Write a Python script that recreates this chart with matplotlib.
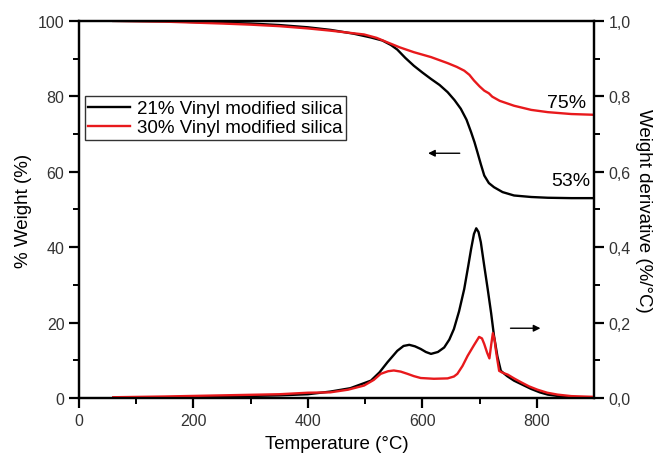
import numpy as np
import matplotlib
matplotlib.use("Agg")
import matplotlib.pyplot as plt

plt.rcParams['font.family'] = ['Liberation Sans', 'DejaVu Sans']

# TGA weight curves (temperature in C, weight in %)
t_w21 = [60, 150, 250, 300, 350, 400, 440, 480, 510, 530, 545, 556, 570, 585, 600, 615, 630,
         644, 656, 667, 677, 685, 691, 696, 702, 708, 716, 725, 740, 760, 790, 819, 860, 900]
w21 = [100, 99.9, 99.5, 99.3, 98.9, 98.3, 97.6, 96.6, 95.6, 94.8, 93.6, 92.4, 90.2, 88.1, 86.3,
       84.6, 83.0, 81.1, 79.0, 76.7, 73.8, 70.5, 67.8, 65.2, 62.0, 59.0, 57.0, 55.9, 54.6, 53.7,
       53.3, 53.1, 53.0, 53.0]

t_w30 = [60, 150, 250, 300, 350, 400, 440, 498, 520, 539, 560, 585, 615, 644, 660, 673, 682,
         690, 700, 708, 716, 722, 735, 760, 790, 819, 860, 900]
w30 = [100, 99.8, 99.3, 99.0, 98.6, 98.0, 97.4, 96.4, 95.5, 94.3, 93.0, 91.7, 90.4, 88.8, 87.8,
       86.8, 85.7, 84.2, 82.6, 81.5, 80.8, 79.9, 78.8, 77.5, 76.4, 75.8, 75.3, 75.1]

# DTG curves (%/C)
t_d21 = [60, 150, 250, 350, 400, 439, 474, 510, 525, 539, 556, 567, 577, 587, 597, 606, 615,
         627, 638, 647, 655, 664, 673, 680, 685, 690, 694, 698, 702, 708, 714, 720, 725, 731,
         737, 748, 760, 775, 790, 805, 819, 848, 900]
d21 = [0.001, 0.002, 0.004, 0.007, 0.010, 0.017, 0.026, 0.046, 0.068, 0.095, 0.125, 0.138,
       0.141, 0.137, 0.130, 0.122, 0.117, 0.122, 0.134, 0.155, 0.183, 0.230, 0.289, 0.350,
       0.395, 0.435, 0.450, 0.440, 0.413, 0.350, 0.289, 0.225, 0.165, 0.110, 0.072, 0.058,
       0.046, 0.035, 0.024, 0.015, 0.009, 0.003, 0.001]

t_d30 = [60, 150, 250, 350, 400, 439, 470, 498, 515, 527, 540, 550, 562, 574, 585, 597, 620,
         644, 655, 661, 670, 679, 690, 699, 704, 708, 713, 717, 720, 723, 726, 728, 731, 734,
         740, 749, 760, 772, 786, 801, 818, 836, 860, 900]
d30 = [0.002, 0.004, 0.007, 0.010, 0.014, 0.015, 0.022, 0.033, 0.048, 0.064, 0.071, 0.073,
       0.070, 0.064, 0.058, 0.053, 0.051, 0.052, 0.057, 0.064, 0.085, 0.112, 0.140, 0.162,
       0.158, 0.143, 0.120, 0.105, 0.140, 0.172, 0.155, 0.130, 0.100, 0.072, 0.067, 0.062,
       0.052, 0.042, 0.031, 0.022, 0.014, 0.009, 0.005, 0.003]

labels = ['21% Vinyl modified silica', '30% Vinyl modified silica']
right_ticks = [0.0, 0.2, 0.4, 0.6, 0.8, 1.0]
right_ticklabels = ['0,0', '0,2', '0,4', '0,6', '0,8', '1,0']

red = '#e8191c'

fig = plt.figure(figsize=(6.58, 4.56), dpi=100)
ax = fig.add_axes([0.120, 0.125, 0.783, 0.827])
ax2 = ax.twinx()

l1, = ax.plot(t_w21, w21, color='black', lw=1.7, label=labels[0])
l2, = ax.plot(t_w30, w30, color=red, lw=1.7, label=labels[1])
ax2.plot(t_d21, d21, color='black', lw=1.7)
ax2.plot(t_d30, d30, color=red, lw=1.7)

ax.set_xlim(0, 900)
ax.set_ylim(0, 100)
ax2.set_ylim(0, 1.0)

ax.set_xticks([0, 200, 400, 600, 800])
ax.set_xticks([100, 300, 500, 700], minor=True)
ax.set_yticks([0, 20, 40, 60, 80, 100])
ax.set_yticks([10, 30, 50, 70, 90], minor=True)
ax2.set_yticks(right_ticks)
ax2.set_yticklabels(right_ticklabels)
ax2.set_yticks([0.1, 0.3, 0.5, 0.7, 0.9], minor=True)

for a in (ax, ax2):
    for s in a.spines.values():
        s.set_linewidth(1.6)
    a.tick_params(which='major', direction='out', length=7, width=1.6,
                  labelsize=11.5, labelcolor='#333333')
    a.tick_params(which='minor', direction='out', length=4, width=1.4)
ax.tick_params(top=False, right=False)
ax.tick_params(which='minor', top=False, right=False)

ax.set_xlabel('Temperature (°C)', fontsize=13.5, labelpad=5)
ax.set_ylabel('% Weight (%)', fontsize=13.5, labelpad=4)
ax2.set_ylabel('Weight derivative (%/°C)', fontsize=13.5, rotation=270, labelpad=15)

leg = ax.legend(handles=[l1, l2], loc='upper left', bbox_to_anchor=(0.0, 0.815),
                fontsize=13.5, frameon=True, fancybox=False, edgecolor='black',
                handlelength=2.2, handletextpad=0.4, borderpad=0.2, labelspacing=0.1,
                borderaxespad=0.3)
leg.get_frame().set_linewidth(1.0)

ax.text(851, 78.4, '75%', fontsize=14, ha='center', va='center')
ax.text(859, 57.6, '53%', fontsize=14, ha='center', va='center')
ax.annotate('', xy=(605, 64.9), xytext=(670, 64.9),
            arrowprops=dict(arrowstyle='-|>', color='black', lw=1.0, mutation_scale=10))
ax2.annotate('', xy=(811, 0.185), xytext=(749, 0.185),
             arrowprops=dict(arrowstyle='-|>', color='black', lw=1.0, mutation_scale=10))

fig.savefig('out.png', dpi=100)
